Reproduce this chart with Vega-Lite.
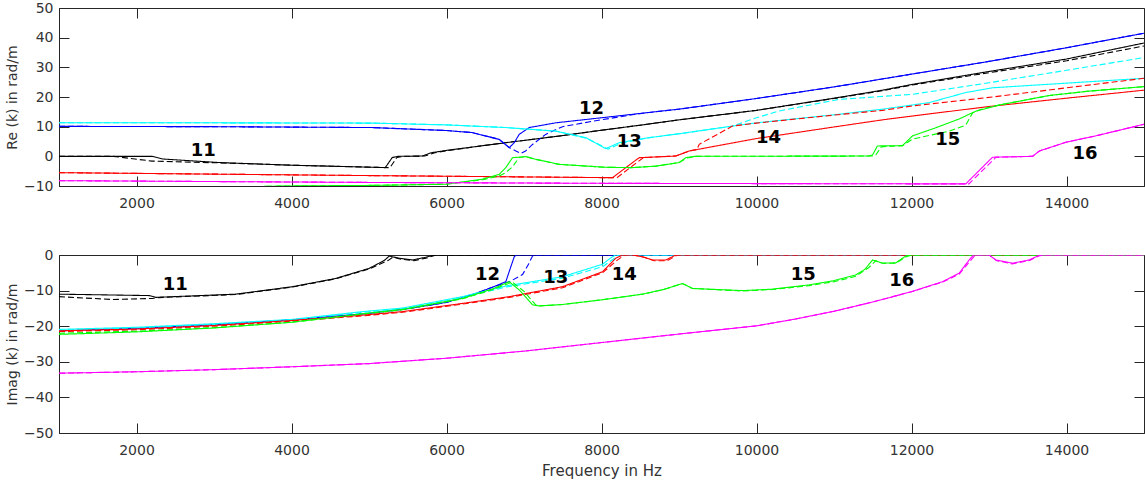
{
 "$schema": "https://vega.github.io/schema/vega-lite/v6.json",
 "padding": {"left": 4, "top": 0, "right": 3, "bottom": 0},
 "background": "white",
 "spacing": 36,
 "config": {
  "font": "DejaVu Sans",
  "view": {"stroke": "#262626", "strokeWidth": 1},
  "axis": {"labelFont": "DejaVu Sans", "labelFontSize": 14, "labelColor": "#333333", "titleFont": "DejaVu Sans", "titleFontSize": 14, "titleFontWeight": "normal", "titleColor": "#333333", "domainColor": "#262626", "tickColor": "#262626", "ticks": true, "tickWidth": 1, "tickOpacity": 1, "grid": false, "tickSize": -10, "zindex": 1}
 },
 "datasets": {
  "reLab": [
   {"t": "11", "f": 2861, "v": 1.9}, {"t": "12", "f": 7871, "v": 16.1}, {"t": "13", "f": 8357, "v": 5.0},
   {"t": "14", "f": 10155, "v": 6.3}, {"t": "15", "f": 12468, "v": 5.4}, {"t": "16", "f": 14239, "v": 0.7}
  ],
  "imLab": [
   {"t": "11", "f": 2501, "v": -8.4}, {"t": "12", "f": 6529, "v": -5.6}, {"t": "13", "f": 7410, "v": -6.5},
   {"t": "14", "f": 8293, "v": -5.6}, {"t": "15", "f": 10604, "v": -5.7}, {"t": "16", "f": 11873, "v": -7.2}
  ],
  "re": [
   {"c":"k","d":"s","f":1000,"v":0},{"c":"k","d":"s","f":2200,"v":0},{"c":"k","d":"s","f":2340,"v":-0.9},{"c":"k","d":"s","f":3070,"v":-2.1},{"c":"k","d":"s","f":4010,"v":-3.0},{"c":"k","d":"s","f":5210,"v":-3.8},{"c":"k","d":"s","f":5300,"v":-0.4},{"c":"k","d":"s","f":5380,"v":0},{"c":"k","d":"s","f":5690,"v":0.1},{"c":"k","d":"s","f":5800,"v":1.2},{"c":"k","d":"s","f":6000,"v":2.0},{"c":"k","d":"s","f":6500,"v":3.7},{"c":"k","d":"s","f":6765,"v":4.6},{"c":"k","d":"s","f":7500,"v":7.0},{"c":"k","d":"s","f":8000,"v":8.8},{"c":"k","d":"s","f":8500,"v":10.5},{"c":"k","d":"s","f":9000,"v":12.3},{"c":"k","d":"s","f":10000,"v":15.5},{"c":"k","d":"s","f":11000,"v":19.6},{"c":"k","d":"s","f":11626,"v":22.3},{"c":"k","d":"s","f":12000,"v":24.2},{"c":"k","d":"s","f":13000,"v":28.6},{"c":"k","d":"s","f":14000,"v":32.8},{"c":"k","d":"s","f":15000,"v":38.2},
   {"c":"k","d":"d","f":1000,"v":0},{"c":"k","d":"d","f":1700,"v":0},{"c":"k","d":"d","f":2200,"v":-1.6},{"c":"k","d":"d","f":3070,"v":-2.2},{"c":"k","d":"d","f":4010,"v":-3.0},{"c":"k","d":"d","f":5270,"v":-3.8},{"c":"k","d":"d","f":5360,"v":-0.4},{"c":"k","d":"d","f":5440,"v":0},{"c":"k","d":"d","f":5720,"v":0.1},{"c":"k","d":"d","f":5850,"v":1.2},{"c":"k","d":"d","f":6000,"v":1.9},{"c":"k","d":"d","f":6500,"v":3.7},{"c":"k","d":"d","f":6765,"v":4.6},{"c":"k","d":"d","f":7500,"v":7.0},{"c":"k","d":"d","f":8000,"v":8.8},{"c":"k","d":"d","f":8500,"v":10.5},{"c":"k","d":"d","f":9000,"v":12.3},{"c":"k","d":"d","f":10000,"v":15.5},{"c":"k","d":"d","f":11000,"v":19.5},{"c":"k","d":"d","f":11626,"v":22.1},{"c":"k","d":"d","f":12000,"v":24.0},{"c":"k","d":"d","f":13000,"v":28.2},{"c":"k","d":"d","f":14000,"v":32.2},{"c":"k","d":"d","f":15000,"v":37.2},
   {"c":"b","d":"s","f":1000,"v":10.1},{"c":"b","d":"s","f":3000,"v":10.0},{"c":"b","d":"s","f":5045,"v":9.7},{"c":"b","d":"s","f":6000,"v":8.7},{"c":"b","d":"s","f":6335,"v":8.0},{"c":"b","d":"s","f":6680,"v":5.7},{"c":"b","d":"s","f":6809,"v":2.9},{"c":"b","d":"s","f":6874,"v":4.6},{"c":"b","d":"s","f":6938,"v":7.4},{"c":"b","d":"s","f":7067,"v":9.7},{"c":"b","d":"s","f":7410,"v":11.3},{"c":"b","d":"s","f":8000,"v":13.0},{"c":"b","d":"s","f":8615,"v":14.8},{"c":"b","d":"s","f":9000,"v":15.9},{"c":"b","d":"s","f":10000,"v":19.5},{"c":"b","d":"s","f":11000,"v":23.4},{"c":"b","d":"s","f":12000,"v":27.7},{"c":"b","d":"s","f":13000,"v":32.0},{"c":"b","d":"s","f":14000,"v":36.6},{"c":"b","d":"s","f":15000,"v":41.5},
   {"c":"b","d":"d","f":1000,"v":10.1},{"c":"b","d":"d","f":3000,"v":10.0},{"c":"b","d":"d","f":5045,"v":9.7},{"c":"b","d":"d","f":6000,"v":8.7},{"c":"b","d":"d","f":6335,"v":8.0},{"c":"b","d":"d","f":6680,"v":5.7},{"c":"b","d":"d","f":6809,"v":3.0},{"c":"b","d":"d","f":6895,"v":1.8},{"c":"b","d":"d","f":6960,"v":1.0},{"c":"b","d":"d","f":7020,"v":1.8},{"c":"b","d":"d","f":7110,"v":4.0},{"c":"b","d":"d","f":7280,"v":7.4},{"c":"b","d":"d","f":7497,"v":10.0},{"c":"b","d":"d","f":7926,"v":12.0},{"c":"b","d":"d","f":8443,"v":14.2},{"c":"b","d":"d","f":8615,"v":14.8},{"c":"b","d":"d","f":9000,"v":15.9},{"c":"b","d":"d","f":10000,"v":19.5},{"c":"b","d":"d","f":11000,"v":23.4},{"c":"b","d":"d","f":12000,"v":27.7},{"c":"b","d":"d","f":13000,"v":32.0},{"c":"b","d":"d","f":14000,"v":36.6},{"c":"b","d":"d","f":15000,"v":41.5},
   {"c":"c","d":"s","f":1000,"v":11.3},{"c":"c","d":"s","f":3000,"v":11.3},{"c":"c","d":"s","f":5045,"v":11.2},{"c":"c","d":"s","f":6000,"v":10.6},{"c":"c","d":"s","f":6765,"v":9.7},{"c":"c","d":"s","f":7410,"v":8.5},{"c":"c","d":"s","f":7797,"v":6.3},{"c":"c","d":"s","f":8055,"v":2.6},{"c":"c","d":"s","f":8228,"v":4.6},{"c":"c","d":"s","f":8615,"v":6.3},{"c":"c","d":"s","f":9000,"v":7.6},{"c":"c","d":"s","f":9690,"v":10.2},{"c":"c","d":"s","f":10000,"v":11.3},{"c":"c","d":"s","f":11000,"v":14.0},{"c":"c","d":"s","f":11626,"v":15.9},{"c":"c","d":"s","f":12226,"v":18.1},{"c":"c","d":"s","f":12700,"v":21.5},{"c":"c","d":"s","f":13045,"v":23.1},{"c":"c","d":"s","f":13777,"v":24.3},{"c":"c","d":"s","f":15000,"v":26.3},
   {"c":"c","d":"d","f":1000,"v":11.3},{"c":"c","d":"d","f":3000,"v":11.3},{"c":"c","d":"d","f":5045,"v":11.2},{"c":"c","d":"d","f":6000,"v":10.6},{"c":"c","d":"d","f":6765,"v":9.7},{"c":"c","d":"d","f":7410,"v":8.5},{"c":"c","d":"d","f":7820,"v":6.0},{"c":"c","d":"d","f":8085,"v":2.4},{"c":"c","d":"d","f":8250,"v":4.4},{"c":"c","d":"d","f":8615,"v":6.3},{"c":"c","d":"d","f":9000,"v":7.6},{"c":"c","d":"d","f":9690,"v":10.2},{"c":"c","d":"d","f":10000,"v":13.0},{"c":"c","d":"d","f":10293,"v":15.3},{"c":"c","d":"d","f":11067,"v":19.2},{"c":"c","d":"d","f":12013,"v":20.9},{"c":"c","d":"d","f":13000,"v":24.8},{"c":"c","d":"d","f":14000,"v":29.0},{"c":"c","d":"d","f":15000,"v":33.3},
   {"c":"r","d":"s","f":1000,"v":-5.5},{"c":"r","d":"s","f":3000,"v":-6.0},{"c":"r","d":"s","f":5045,"v":-6.5},{"c":"r","d":"s","f":8142,"v":-7.2},{"c":"r","d":"s","f":8314,"v":-3.8},{"c":"r","d":"s","f":8486,"v":-0.45},{"c":"r","d":"s","f":8959,"v":0.1},{"c":"r","d":"s","f":9131,"v":1.8},{"c":"r","d":"s","f":10000,"v":6.0},{"c":"r","d":"s","f":11000,"v":9.9},{"c":"r","d":"s","f":11626,"v":12.3},{"c":"r","d":"s","f":12013,"v":13.6},{"c":"r","d":"s","f":13000,"v":16.8},{"c":"r","d":"s","f":14000,"v":19.6},{"c":"r","d":"s","f":15000,"v":22.3},
   {"c":"r","d":"d","f":1000,"v":-5.5},{"c":"r","d":"d","f":3000,"v":-6.0},{"c":"r","d":"d","f":5045,"v":-6.5},{"c":"r","d":"d","f":8200,"v":-7.2},{"c":"r","d":"d","f":8370,"v":-3.8},{"c":"r","d":"d","f":8540,"v":-0.45},{"c":"r","d":"d","f":8959,"v":0.1},{"c":"r","d":"d","f":9131,"v":1.8},{"c":"r","d":"d","f":9230,"v":2.3},{"c":"r","d":"d","f":9261,"v":4.05},{"c":"r","d":"d","f":9690,"v":10.2},{"c":"r","d":"d","f":10000,"v":11.2},{"c":"r","d":"d","f":11000,"v":13.9},{"c":"r","d":"d","f":11626,"v":15.5},{"c":"r","d":"d","f":12013,"v":17.0},{"c":"r","d":"d","f":13045,"v":20.0},{"c":"r","d":"d","f":14000,"v":23.1},{"c":"r","d":"d","f":15000,"v":26.3},
   {"c":"g","d":"s","f":1000,"v":-11.5},{"c":"g","d":"s","f":3926,"v":-10},{"c":"g","d":"s","f":5045,"v":-9.8},{"c":"g","d":"s","f":5990,"v":-9.4},{"c":"g","d":"s","f":6465,"v":-7.7},{"c":"g","d":"s","f":6680,"v":-6.1},{"c":"g","d":"s","f":6765,"v":-3.8},{"c":"g","d":"s","f":6852,"v":-0.45},{"c":"g","d":"s","f":7023,"v":-0.1},{"c":"g","d":"s","f":7152,"v":-1.0},{"c":"g","d":"s","f":7454,"v":-2.7},{"c":"g","d":"s","f":8055,"v":-3.7},{"c":"g","d":"s","f":8400,"v":-3.8},{"c":"g","d":"s","f":8701,"v":-3.3},{"c":"g","d":"s","f":9002,"v":-2.1},{"c":"g","d":"s","f":9088,"v":-0.45},{"c":"g","d":"s","f":9200,"v":0},{"c":"g","d":"s","f":11454,"v":0.1},{"c":"g","d":"s","f":11498,"v":0.5},{"c":"g","d":"s","f":11560,"v":3.5},{"c":"g","d":"s","f":11884,"v":3.6},{"c":"g","d":"s","f":12013,"v":6.9},{"c":"g","d":"s","f":12300,"v":9.5},{"c":"g","d":"s","f":12615,"v":12.6},{"c":"g","d":"s","f":12829,"v":15.2},{"c":"g","d":"s","f":13131,"v":17.3},{"c":"g","d":"s","f":13777,"v":20.5},{"c":"g","d":"s","f":14300,"v":22.0},{"c":"g","d":"s","f":15000,"v":23.5},
   {"c":"g","d":"d","f":1000,"v":-11.5},{"c":"g","d":"d","f":3926,"v":-10},{"c":"g","d":"d","f":5045,"v":-9.8},{"c":"g","d":"d","f":5990,"v":-9.4},{"c":"g","d":"d","f":6465,"v":-7.9},{"c":"g","d":"d","f":6680,"v":-6.6},{"c":"g","d":"d","f":6765,"v":-5.5},{"c":"g","d":"d","f":6852,"v":-3.5},{"c":"g","d":"d","f":6938,"v":-0.4},{"c":"g","d":"d","f":7023,"v":-0.1},{"c":"g","d":"d","f":7152,"v":-1.0},{"c":"g","d":"d","f":7454,"v":-2.7},{"c":"g","d":"d","f":8055,"v":-3.7},{"c":"g","d":"d","f":8400,"v":-3.8},{"c":"g","d":"d","f":8701,"v":-3.3},{"c":"g","d":"d","f":9002,"v":-2.1},{"c":"g","d":"d","f":9100,"v":-0.6},{"c":"g","d":"d","f":9220,"v":0},{"c":"g","d":"d","f":11500,"v":0.1},{"c":"g","d":"d","f":11540,"v":0.5},{"c":"g","d":"d","f":11610,"v":3.2},{"c":"g","d":"d","f":11884,"v":3.6},{"c":"g","d":"d","f":12013,"v":5.8},{"c":"g","d":"d","f":12487,"v":8.5},{"c":"g","d":"d","f":12700,"v":10.5},{"c":"g","d":"d","f":12787,"v":14.6},{"c":"g","d":"d","f":12900,"v":15.9},{"c":"g","d":"d","f":13131,"v":17.3},{"c":"g","d":"d","f":13777,"v":20.5},{"c":"g","d":"d","f":14300,"v":22.0},{"c":"g","d":"d","f":15000,"v":23.5},
   {"c":"m","d":"s","f":1000,"v":-8.2},{"c":"m","d":"s","f":5000,"v":-8.8},{"c":"m","d":"s","f":8000,"v":-9.1},{"c":"m","d":"s","f":12700,"v":-9.3},{"c":"m","d":"s","f":13045,"v":-0.3},{"c":"m","d":"s","f":13561,"v":0},{"c":"m","d":"s","f":13650,"v":1.8},{"c":"m","d":"s","f":14000,"v":4.8},{"c":"m","d":"s","f":14378,"v":6.9},{"c":"m","d":"s","f":15000,"v":10.8},
   {"c":"m","d":"d","f":1000,"v":-8.2},{"c":"m","d":"d","f":5000,"v":-8.8},{"c":"m","d":"d","f":8000,"v":-9.1},{"c":"m","d":"d","f":12740,"v":-9.3},{"c":"m","d":"d","f":13090,"v":-0.3},{"c":"m","d":"d","f":13561,"v":0},{"c":"m","d":"d","f":13650,"v":1.8},{"c":"m","d":"d","f":14000,"v":4.8},{"c":"m","d":"d","f":14378,"v":6.9},{"c":"m","d":"d","f":15000,"v":10.8}
  ],
  "im": [
   {"c":"k","d":"s","f":1000,"v":-11.0},{"c":"k","d":"s","f":2164,"v":-11.4},{"c":"k","d":"s","f":2249,"v":-11.9},{"c":"k","d":"s","f":3281,"v":-11.0},{"c":"k","d":"s","f":4013,"v":-8.9},{"c":"k","d":"s","f":4568,"v":-6.6},{"c":"k","d":"s","f":5003,"v":-3.75},{"c":"k","d":"s","f":5200,"v":-1.5},{"c":"k","d":"s","f":5261,"v":-0.3},{"c":"k","d":"s","f":5390,"v":-0.9},{"c":"k","d":"s","f":5561,"v":-1.4},{"c":"k","d":"s","f":5729,"v":-0.65},{"c":"k","d":"s","f":5841,"v":0},{"c":"k","d":"s","f":15000,"v":0},
   {"c":"k","d":"d","f":1000,"v":-11.7},{"c":"k","d":"d","f":1690,"v":-12.5},{"c":"k","d":"d","f":2206,"v":-12.2},{"c":"k","d":"d","f":2249,"v":-12.0},{"c":"k","d":"d","f":3281,"v":-11.1},{"c":"k","d":"d","f":4013,"v":-9.0},{"c":"k","d":"d","f":4568,"v":-6.7},{"c":"k","d":"d","f":5003,"v":-3.9},{"c":"k","d":"d","f":5250,"v":-1.5},{"c":"k","d":"d","f":5310,"v":-0.6},{"c":"k","d":"d","f":5420,"v":-1.2},{"c":"k","d":"d","f":5580,"v":-1.6},{"c":"k","d":"d","f":5750,"v":-0.8},{"c":"k","d":"d","f":5870,"v":0},{"c":"k","d":"d","f":15000,"v":0},
   {"c":"b","d":"s","f":1000,"v":-21.3},{"c":"b","d":"s","f":2000,"v":-20.6},{"c":"b","d":"s","f":3000,"v":-19.6},{"c":"b","d":"s","f":4000,"v":-18.2},{"c":"b","d":"s","f":5000,"v":-16.4},{"c":"b","d":"s","f":5500,"v":-15.1},{"c":"b","d":"s","f":6000,"v":-13.3},{"c":"b","d":"s","f":6378,"v":-10.8},{"c":"b","d":"s","f":6600,"v":-9.0},{"c":"b","d":"s","f":6765,"v":-7.5},{"c":"b","d":"s","f":6830,"v":-3.3},{"c":"b","d":"s","f":6874,"v":-0.5},{"c":"b","d":"s","f":6900,"v":0},{"c":"b","d":"s","f":15000,"v":0},
   {"c":"b","d":"d","f":1000,"v":-21.3},{"c":"b","d":"d","f":2000,"v":-20.6},{"c":"b","d":"d","f":3000,"v":-19.6},{"c":"b","d":"d","f":4000,"v":-18.2},{"c":"b","d":"d","f":5000,"v":-16.4},{"c":"b","d":"d","f":5500,"v":-15.1},{"c":"b","d":"d","f":6000,"v":-13.3},{"c":"b","d":"d","f":6378,"v":-10.8},{"c":"b","d":"d","f":6600,"v":-9.0},{"c":"b","d":"d","f":6765,"v":-7.8},{"c":"b","d":"d","f":6830,"v":-7.3},{"c":"b","d":"d","f":6981,"v":-5.5},{"c":"b","d":"d","f":7060,"v":-2.5},{"c":"b","d":"d","f":7110,"v":-0.3},{"c":"b","d":"d","f":7130,"v":0},{"c":"b","d":"d","f":15000,"v":0},
   {"c":"c","d":"s","f":1000,"v":-20.9},{"c":"c","d":"s","f":2000,"v":-20.3},{"c":"c","d":"s","f":3000,"v":-19.3},{"c":"c","d":"s","f":4000,"v":-18.1},{"c":"c","d":"s","f":4916,"v":-15.9},{"c":"c","d":"s","f":5432,"v":-14.9},{"c":"c","d":"s","f":6206,"v":-11.7},{"c":"c","d":"s","f":6765,"v":-8.7},{"c":"c","d":"s","f":7497,"v":-6.1},{"c":"c","d":"s","f":8013,"v":-2.6},{"c":"c","d":"s","f":8120,"v":-0.8},{"c":"c","d":"s","f":8180,"v":0},{"c":"c","d":"s","f":15000,"v":0},
   {"c":"c","d":"d","f":1000,"v":-21.1},{"c":"c","d":"d","f":2000,"v":-20.5},{"c":"c","d":"d","f":3000,"v":-19.5},{"c":"c","d":"d","f":4000,"v":-18.3},{"c":"c","d":"d","f":4916,"v":-16.1},{"c":"c","d":"d","f":5432,"v":-15.1},{"c":"c","d":"d","f":6206,"v":-12.0},{"c":"c","d":"d","f":6765,"v":-9.0},{"c":"c","d":"d","f":7497,"v":-6.5},{"c":"c","d":"d","f":8013,"v":-3.3},{"c":"c","d":"d","f":8150,"v":-1.2},{"c":"c","d":"d","f":8220,"v":0},{"c":"c","d":"d","f":15000,"v":0},
   {"c":"r","d":"s","f":1000,"v":-21.3},{"c":"r","d":"s","f":2000,"v":-20.8},{"c":"r","d":"s","f":3000,"v":-19.8},{"c":"r","d":"s","f":4000,"v":-18.4},{"c":"r","d":"s","f":4916,"v":-16.9},{"c":"r","d":"s","f":5432,"v":-15.9},{"c":"r","d":"s","f":6206,"v":-13.6},{"c":"r","d":"s","f":6809,"v":-11.7},{"c":"r","d":"s","f":7497,"v":-8.9},{"c":"r","d":"s","f":8013,"v":-4.7},{"c":"r","d":"s","f":8185,"v":-0.9},{"c":"r","d":"s","f":8271,"v":0},{"c":"r","d":"s","f":8400,"v":0},{"c":"r","d":"s","f":8529,"v":-0.5},{"c":"r","d":"s","f":8658,"v":-1.4},{"c":"r","d":"s","f":8830,"v":-1.4},{"c":"r","d":"s","f":8959,"v":0},{"c":"r","d":"s","f":15000,"v":0},
   {"c":"r","d":"d","f":1000,"v":-21.5},{"c":"r","d":"d","f":2000,"v":-21.0},{"c":"r","d":"d","f":3000,"v":-20.0},{"c":"r","d":"d","f":4000,"v":-18.6},{"c":"r","d":"d","f":4916,"v":-17.1},{"c":"r","d":"d","f":5432,"v":-16.1},{"c":"r","d":"d","f":6206,"v":-13.8},{"c":"r","d":"d","f":6809,"v":-11.9},{"c":"r","d":"d","f":7497,"v":-9.2},{"c":"r","d":"d","f":8013,"v":-5.0},{"c":"r","d":"d","f":8200,"v":-1.5},{"c":"r","d":"d","f":8300,"v":0},{"c":"r","d":"d","f":8430,"v":0},{"c":"r","d":"d","f":8560,"v":-0.7},{"c":"r","d":"d","f":8680,"v":-1.6},{"c":"r","d":"d","f":8850,"v":-1.6},{"c":"r","d":"d","f":8980,"v":0},{"c":"r","d":"d","f":15000,"v":0},
   {"c":"g","d":"s","f":1000,"v":-22.3},{"c":"g","d":"s","f":2000,"v":-21.6},{"c":"g","d":"s","f":3000,"v":-20.5},{"c":"g","d":"s","f":4000,"v":-18.9},{"c":"g","d":"s","f":4916,"v":-16.5},{"c":"g","d":"s","f":5432,"v":-15.3},{"c":"g","d":"s","f":6206,"v":-12.2},{"c":"g","d":"s","f":6600,"v":-9.5},{"c":"g","d":"s","f":6809,"v":-7.5},{"c":"g","d":"s","f":6938,"v":-9.8},{"c":"g","d":"s","f":7110,"v":-14.0},{"c":"g","d":"s","f":7196,"v":-14.3},{"c":"g","d":"s","f":7500,"v":-13.9},{"c":"g","d":"s","f":8000,"v":-12.6},{"c":"g","d":"s","f":8529,"v":-11.0},{"c":"g","d":"s","f":8800,"v":-9.7},{"c":"g","d":"s","f":9045,"v":-8.0},{"c":"g","d":"s","f":9174,"v":-9.4},{"c":"g","d":"s","f":9819,"v":-10.0},{"c":"g","d":"s","f":10200,"v":-9.6},{"c":"g","d":"s","f":10680,"v":-8.4},{"c":"g","d":"s","f":11000,"v":-7.2},{"c":"g","d":"s","f":11281,"v":-5.6},{"c":"g","d":"s","f":11400,"v":-4.0},{"c":"g","d":"s","f":11497,"v":-1.4},{"c":"g","d":"s","f":11626,"v":-2.3},{"c":"g","d":"s","f":11797,"v":-2.2},{"c":"g","d":"s","f":11926,"v":-0.3},{"c":"g","d":"s","f":12000,"v":0},{"c":"g","d":"s","f":15000,"v":0},
   {"c":"g","d":"d","f":1000,"v":-22.0},{"c":"g","d":"d","f":2000,"v":-21.4},{"c":"g","d":"d","f":3000,"v":-20.4},{"c":"g","d":"d","f":4000,"v":-18.9},{"c":"g","d":"d","f":4916,"v":-16.6},{"c":"g","d":"d","f":5432,"v":-15.4},{"c":"g","d":"d","f":6206,"v":-12.3},{"c":"g","d":"d","f":6600,"v":-9.7},{"c":"g","d":"d","f":6850,"v":-7.6},{"c":"g","d":"d","f":7000,"v":-10.2},{"c":"g","d":"d","f":7150,"v":-14.0},{"c":"g","d":"d","f":7196,"v":-14.3},{"c":"g","d":"d","f":7500,"v":-13.9},{"c":"g","d":"d","f":8000,"v":-12.6},{"c":"g","d":"d","f":8529,"v":-11.0},{"c":"g","d":"d","f":8800,"v":-9.7},{"c":"g","d":"d","f":9045,"v":-8.0},{"c":"g","d":"d","f":9174,"v":-9.4},{"c":"g","d":"d","f":9819,"v":-10.1},{"c":"g","d":"d","f":10200,"v":-9.7},{"c":"g","d":"d","f":10680,"v":-8.6},{"c":"g","d":"d","f":11000,"v":-7.5},{"c":"g","d":"d","f":11281,"v":-6.0},{"c":"g","d":"d","f":11450,"v":-3.5},{"c":"g","d":"d","f":11540,"v":-1.6},{"c":"g","d":"d","f":11626,"v":-2.3},{"c":"g","d":"d","f":11797,"v":-2.3},{"c":"g","d":"d","f":11940,"v":-0.4},{"c":"g","d":"d","f":12010,"v":0},{"c":"g","d":"d","f":15000,"v":0},
   {"c":"m","d":"s","f":1000,"v":-33.2},{"c":"m","d":"s","f":2000,"v":-32.8},{"c":"m","d":"s","f":3000,"v":-32.2},{"c":"m","d":"s","f":4000,"v":-31.4},{"c":"m","d":"s","f":5000,"v":-30.5},{"c":"m","d":"s","f":6000,"v":-29.0},{"c":"m","d":"s","f":7000,"v":-27.0},{"c":"m","d":"s","f":8000,"v":-24.6},{"c":"m","d":"s","f":9000,"v":-22.2},{"c":"m","d":"s","f":10000,"v":-19.9},{"c":"m","d":"s","f":10500,"v":-18.0},{"c":"m","d":"s","f":11000,"v":-15.8},{"c":"m","d":"s","f":11500,"v":-13.2},{"c":"m","d":"s","f":12000,"v":-10.3},{"c":"m","d":"s","f":12400,"v":-7.5},{"c":"m","d":"s","f":12615,"v":-5.1},{"c":"m","d":"s","f":12744,"v":-1.4},{"c":"m","d":"s","f":12787,"v":-0.3},{"c":"m","d":"s","f":12800,"v":0},{"c":"m","d":"s","f":13003,"v":0},{"c":"m","d":"s","f":13088,"v":-1.4},{"c":"m","d":"s","f":13303,"v":-2.3},{"c":"m","d":"s","f":13518,"v":-1.4},{"c":"m","d":"s","f":13626,"v":-0.3},{"c":"m","d":"s","f":13680,"v":0},{"c":"m","d":"s","f":15000,"v":0},
   {"c":"m","d":"d","f":1000,"v":-33.2},{"c":"m","d":"d","f":2000,"v":-32.8},{"c":"m","d":"d","f":3000,"v":-32.2},{"c":"m","d":"d","f":4000,"v":-31.4},{"c":"m","d":"d","f":5000,"v":-30.5},{"c":"m","d":"d","f":6000,"v":-29.0},{"c":"m","d":"d","f":7000,"v":-27.0},{"c":"m","d":"d","f":8000,"v":-24.6},{"c":"m","d":"d","f":9000,"v":-22.2},{"c":"m","d":"d","f":10000,"v":-19.9},{"c":"m","d":"d","f":10500,"v":-18.0},{"c":"m","d":"d","f":11000,"v":-15.8},{"c":"m","d":"d","f":11500,"v":-13.2},{"c":"m","d":"d","f":12000,"v":-10.3},{"c":"m","d":"d","f":12400,"v":-7.6},{"c":"m","d":"d","f":12615,"v":-5.4},{"c":"m","d":"d","f":12744,"v":-2.0},{"c":"m","d":"d","f":12800,"v":-0.6},{"c":"m","d":"d","f":12830,"v":0},{"c":"m","d":"d","f":13003,"v":0},{"c":"m","d":"d","f":13100,"v":-1.6},{"c":"m","d":"d","f":13300,"v":-2.5},{"c":"m","d":"d","f":13530,"v":-1.5},{"c":"m","d":"d","f":13640,"v":-0.3},{"c":"m","d":"d","f":13700,"v":0},{"c":"m","d":"d","f":15000,"v":0}
  ]
 },
 "vconcat": [
  {
   "width": 1085, "height": 178,
   "layer": [
    {
     "data": {"name": "re"},
     "mark": {"type": "line", "clip": true, "strokeWidth": 1.1},
     "encoding": {
      "x": {"field": "f", "type": "quantitative", "scale": {"domain": [1000, 15000], "nice": false, "zero": false}, "axis": {"orient": "bottom", "values": [2000, 4000, 6000, 8000, 10000, 12000, 14000], "title": null, "labelPadding": 20, "format": "d"}},
      "y": {"field": "v", "type": "quantitative", "scale": {"domain": [-10, 50], "nice": false, "zero": false}, "axis": {"orient": "left", "values": [-10, 0, 10, 20, 30, 40, 50], "title": "Re (k) in rad/m", "labelPadding": 16, "titlePadding": 4}},
      "color": {"field": "c", "type": "nominal", "scale": {"domain": ["k", "b", "c", "r", "g", "m"], "range": ["#000000", "#0000ff", "#00ffff", "#ff0000", "#00ff00", "#ff00ff"]}, "legend": null},
      "strokeDash": {"field": "d", "type": "nominal", "scale": {"domain": ["s", "d"], "range": [[1, 0], [6, 3]]}, "legend": null}
     }
    },
    {
     "data": {"name": "reLab"},
     "mark": {"type": "text", "font": "DejaVu Sans", "fontWeight": "bold", "fontSize": 18, "color": "#000000", "align": "center", "baseline": "middle"},
     "encoding": {
      "x": {"field": "f", "type": "quantitative", "axis": {"orient": "top", "values": [2000, 4000, 6000, 8000, 10000, 12000, 14000], "labels": false, "title": null, "domain": false}},
      "y": {"field": "v", "type": "quantitative", "axis": {"orient": "right", "values": [-10, 0, 10, 20, 30, 40, 50], "labels": false, "title": null, "domain": false}},
      "text": {"field": "t"}
     }
    }
   ],
   "resolve": {"axis": {"x": "independent", "y": "independent"}}
  },
  {
   "width": 1085, "height": 178,
   "layer": [
    {
     "data": {"name": "im"},
     "mark": {"type": "line", "clip": true, "strokeWidth": 1.1},
     "encoding": {
      "x": {"field": "f", "type": "quantitative", "scale": {"domain": [1000, 15000], "nice": false, "zero": false}, "axis": {"orient": "bottom", "values": [2000, 4000, 6000, 8000, 10000, 12000, 14000], "title": "Frequency in Hz", "titleFontSize": 15, "labelPadding": 20, "titlePadding": 6, "format": "d"}},
      "y": {"field": "v", "type": "quantitative", "scale": {"domain": [-50, 0], "nice": false, "zero": false}, "axis": {"orient": "left", "values": [-50, -40, -30, -20, -10, 0], "title": "Imag (k) in rad/m", "labelPadding": 16, "titlePadding": 4}},
      "color": {"field": "c", "type": "nominal", "scale": {"domain": ["k", "b", "c", "r", "g", "m"], "range": ["#000000", "#0000ff", "#00ffff", "#ff0000", "#00ff00", "#ff00ff"]}, "legend": null},
      "strokeDash": {"field": "d", "type": "nominal", "scale": {"domain": ["s", "d"], "range": [[1, 0], [6, 3]]}, "legend": null}
     }
    },
    {
     "data": {"name": "imLab"},
     "mark": {"type": "text", "font": "DejaVu Sans", "fontWeight": "bold", "fontSize": 18, "color": "#000000", "align": "center", "baseline": "middle"},
     "encoding": {
      "x": {"field": "f", "type": "quantitative", "axis": {"orient": "top", "values": [2000, 4000, 6000, 8000, 10000, 12000, 14000], "labels": false, "title": null, "domain": false}},
      "y": {"field": "v", "type": "quantitative", "axis": {"orient": "right", "values": [-50, -40, -30, -20, -10, 0], "labels": false, "title": null, "domain": false}},
      "text": {"field": "t"}
     }
    }
   ],
   "resolve": {"axis": {"x": "independent", "y": "independent"}}
  }
 ]
}
